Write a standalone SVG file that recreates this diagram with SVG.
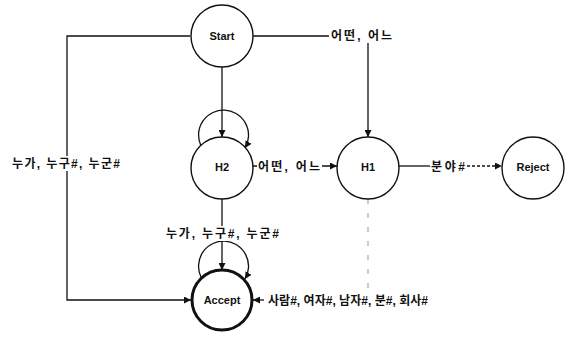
<svg xmlns="http://www.w3.org/2000/svg" width="570" height="341" viewBox="0 0 570 341">
<style>
.n{fill:#fff;stroke:#111;stroke-width:1.4}
.acc{fill:#fff;stroke:#111;stroke-width:3}
.nt{font-family:"Liberation Sans","Noto Sans CJK KR",sans-serif;font-size:11px;font-weight:bold;fill:#111;text-anchor:middle}
.e{fill:none;stroke:#111;stroke-width:1.3}
.f{fill:none;stroke:#aaa;stroke-width:1.2;stroke-dasharray:5 9}
.l{font-family:"Liberation Sans","Noto Sans CJK KR",sans-serif;font-size:12px;font-weight:bold;fill:#111}
.bg{fill:#fff}
</style>
<defs>
<marker id="ah" viewBox="0 0 10 10" refX="10" refY="5" markerWidth="7" markerHeight="7" markerUnits="userSpaceOnUse" orient="auto">
<path d="M0,0 L10,5 L0,10 z" fill="#111"/>
</marker>
</defs>
<g id="connectors">
<path class="e" d="M190,36 H67 V300 H191" marker-end="url(#ah)"/>
<path class="e" d="M253,36 H368 V137" marker-end="url(#ah)"/>
<path class="e" d="M222,67 V137" marker-end="url(#ah)"/>
<path class="e" d="M201,146 A25,25 0 1 1 245,148" marker-end="url(#ah)"/>
<path class="e" d="M253,166 H337" marker-end="url(#ah)"/>
<path class="e" d="M398,166 H430"/>
<path class="e" d="M467,166 H502" stroke-dasharray="3 2" marker-end="url(#ah)"/>
<path class="e" d="M222,199 V270" marker-end="url(#ah)"/>
<path class="e" d="M201,277 A25,25 0 1 1 245,279" marker-end="url(#ah)"/>
<path class="f" d="M368,199 V290"/>
<path class="e" d="M264,300 H253" marker-end="url(#ah)"/>
<rect class="bg" x="10" y="156" width="112" height="15"/>
<text class="l" x="12" y="167.5" textLength="108" lengthAdjust="spacing">누가, 누구#, 누군#</text>
<rect class="bg" x="329" y="28" width="65" height="15"/>
<text class="l" x="331" y="39.5" textLength="61" lengthAdjust="spacing">어떤, 어느</text>
<rect class="bg" x="257" y="159" width="65" height="15"/>
<text class="l" x="258" y="170.5" textLength="62" lengthAdjust="spacing">어떤, 어느</text>
<text class="l" x="431" y="170.5" textLength="34" lengthAdjust="spacing">분야#</text>
<rect class="bg" x="164" y="226" width="118" height="15"/>
<text class="l" x="166" y="237.5" textLength="113" lengthAdjust="spacing">누가, 누구#, 누군#</text>
<text class="l" x="268" y="304.5" textLength="160" lengthAdjust="spacing">사람#, 여자#, 남자#, 분#, 회사#</text>
</g>
<g id="start"><circle class="n" cx="222" cy="36" r="31"/><text class="nt" x="222" y="40">Start</text></g>
<g id="h2"><circle class="n" cx="222" cy="168" r="31"/><text class="nt" x="222" y="171">H2</text></g>
<g id="h1"><circle class="n" cx="368" cy="168" r="31"/><text class="nt" x="368" y="171">H1</text></g>
<g id="reject"><circle class="n" cx="533" cy="168" r="31"/><text class="nt" x="533" y="171">Reject</text></g>
<g id="accept"><circle class="acc" cx="222" cy="300" r="30"/><text class="nt" x="222" y="304">Accept</text></g>
</svg>
